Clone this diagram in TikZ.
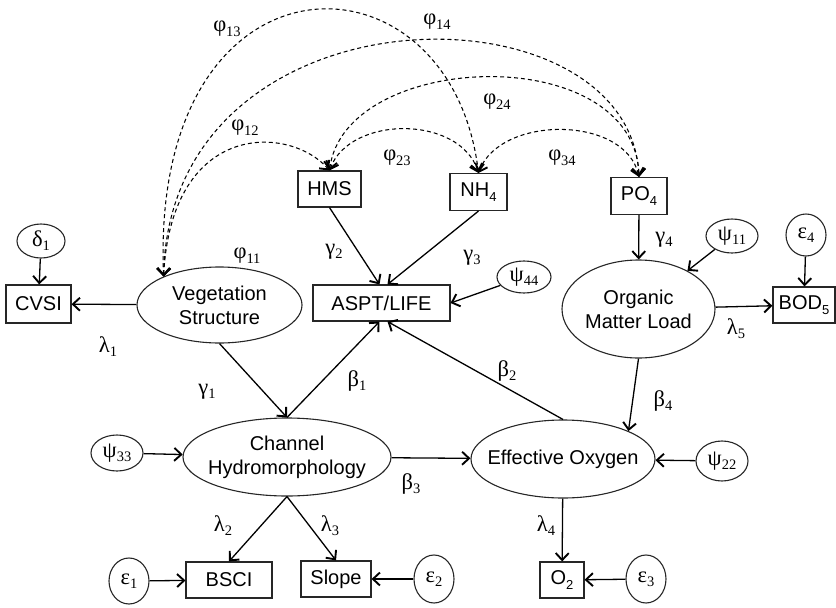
\documentclass[tikz,border=0pt]{standalone}
\usepackage{fontspec}
\setmainfont{Liberation Serif}
\setsansfont{Liberation Sans}
\usetikzlibrary{arrows.meta,shapes.geometric,calc}
\newcommand\sbx[1]{\raisebox{-0.4ex}{\fontsize{14.5}{14.5}\selectfont #1}}
\newcommand\sbs[1]{\raisebox{-0.45ex}{\fontsize{13}{13}\selectfont #1}}
\begin{document}
\begin{tikzpicture}[x=1pt,y=-1pt,
  every node/.style={inner sep=0pt},
  obs/.style={draw=black!85, line width=1.1pt, rectangle, font=\sffamily\fontsize{20}{24}\selectfont},
  lat/.style={draw=black!85, line width=1.1pt, ellipse},
  err/.style={draw=black!85, line width=1.1pt, ellipse, font=\fontsize{22.5}{24}\selectfont},
  lab/.style={font=\fontsize{22.5}{24}\selectfont},
  txt/.style={font=\sffamily\fontsize{20}{24}\selectfont, align=center},
  tip/.tip={Straight Barb[length=7pt,width=13pt,line width=1.9pt]},
  arr/.style={line width=1.3pt, -tip},
  cov/.style={line width=1.05pt, dash pattern=on 4pt off 3pt, tip-tip}
]
\useasboundingbox (0,0) rectangle (836,608);

% observed variables
\node[obs, minimum width=65pt, minimum height=38pt] (cvsi) at (38.5,304) {CVSI};
\node[obs, minimum width=63pt, minimum height=36pt] (hms) at (329.5,189) {HMS};
\node[obs, minimum width=57pt, minimum height=37pt] (nh4) at (478.5,192) {NH\sbs{4}};
\node[obs, minimum width=56pt, minimum height=37pt] (po4) at (639,196) {PO\sbs{4}};
\node[obs, minimum width=137pt, minimum height=36pt] (aspt) at (381.5,303) {ASPT/LIFE};
\node[obs, minimum width=62pt, minimum height=36pt] (bod5) at (804,305) {BOD\sbs{5}};
\node[obs, minimum width=86pt, minimum height=36pt] (bsci) at (229,580) {BSCI};
\node[obs, minimum width=70pt, minimum height=36pt] (slope) at (336,579) {Slope};
\node[obs, minimum width=44pt, minimum height=36pt] (o2) at (562,580) {O\sbs{2}};

% latent variables
\node[lat, minimum width=165pt, minimum height=76pt, label={[txt]center:Vegetation\\Structure}] (veg) at (219.5,305) {};
\node[lat, minimum width=153pt, minimum height=98pt, label={[txt]center:Organic\\Matter Load}] (org) at (638.5,309) {};
\node[lat, minimum width=208pt, minimum height=78pt, label={[txt]center:Channel\\Hydromorphology}] (chan) at (287,457) {};
\node[lat, minimum width=184pt, minimum height=78pt, label={[txt]center:Effective Oxygen}] (eo) at (563,459) {};

% error terms
\node[err, minimum width=48pt, minimum height=34pt] (d1) at (41,241) {δ\sbx{1}};
\node[err, minimum width=54pt, minimum height=32pt] (psi44) at (524,277) {ψ\sbx{44}};
\node[err, minimum width=52pt, minimum height=34pt] (psi11) at (732,236) {ψ\sbx{11}};
\node[err, minimum width=40pt, minimum height=42pt] (eps4) at (806,235) {ε\sbx{4}};
\node[err, minimum width=52pt, minimum height=36pt] (psi33) at (117,453) {ψ\sbx{33}};
\node[err, minimum width=52pt, minimum height=40pt] (psi22) at (722,461) {ψ\sbx{22}};
\node[err, minimum width=40pt, minimum height=46pt] (eps1) at (129,581) {ε\sbx{1}};
\node[err, minimum width=40pt, minimum height=48pt] (eps2) at (434,579) {ε\sbx{2}};
\node[err, minimum width=40pt, minimum height=48pt] (eps3) at (646,579) {ε\sbx{3}};

% directed paths
\draw[arr] (d1) -- (cvsi);
\draw[arr] (veg) -- (cvsi);
\draw[arr] (hms.south) -- ([xshift=-2pt]aspt.north);
\draw[arr] (nh4.south) -- ([xshift=6pt]aspt.north);
\draw[arr] (psi44) -- (aspt.east);
\draw[arr] (veg.south) -- (chan.north);
\draw[arr] (chan.north) -- ([xshift=-2pt]aspt.south);
\draw[arr] (eo.north) -- ([xshift=6pt]aspt.south);
\draw[arr] (po4) -- (org);
\draw[arr] (psi11) -- (org);
\draw[arr] (eps4) -- (bod5);
\draw[arr] (org) -- (bod5);
\draw[arr] (org.south) -- (eo.north east);
\draw[arr] (psi33) -- (chan);
\draw[arr] (chan) -- (eo);
\draw[arr] (psi22) -- (eo);
\draw[arr] (eo) -- (o2);
\draw[arr] (eps3) -- (o2);
\draw[arr] (chan.south) -- (bsci.north);
\draw[arr] (chan.south) -- (slope.north);
\draw[arr] (eps1) -- (bsci);
\draw[arr] (eps2) -- (slope);

% covariances
\draw[cov] (veg.153) .. controls (172,120) and (290,125) .. (hms.north);
\draw[cov] (veg.153) .. controls (150,-60) and (450,-60) .. (nh4.north);
\draw[cov] (veg.153) .. controls (170,-20) and (630,-20) .. (po4.north);
\draw[cov] (hms.north) .. controls (350,115) and (460,115) .. (nh4.north);
\draw[cov] (hms.north) .. controls (345,50) and (635,40) .. (po4.north);
\draw[cov] (nh4.north) .. controls (500,115) and (625,115) .. (po4.north);

% labels
\node[lab] (l13) at (227,29) {φ\sbx{13}};
\node[lab] (l14) at (437,22) {φ\sbx{14}};
\node[lab] (l24) at (497,102) {φ\sbx{24}};
\node[lab] (l12) at (245,128) {φ\sbx{12}};
\node[lab] (l23) at (397,158) {φ\sbx{23}};
\node[lab] (l34) at (562,158) {φ\sbx{34}};
\node[lab] (l11) at (247,256) {φ\sbx{11}};
\node[lab] (g2) at (334,252) {γ\sbx{2}};
\node[lab] (g3) at (472,258) {γ\sbx{3}};
\node[lab] (g4) at (664,240) {γ\sbx{4}};
\node[lab] (lam1) at (108,347) {λ\sbx{1}};
\node[lab] (g1) at (207,392) {γ\sbx{1}};
\node[lab] (b1) at (357,381) {β\sbx{1}};
\node[lab] (b2) at (507,371) {β\sbx{2}};
\node[lab] (b4) at (663,401) {β\sbx{4}};
\node[lab] (lam5) at (736,329) {λ\sbx{5}};
\node[lab] (b3) at (411,484) {β\sbx{3}};
\node[lab] (lam2) at (223,526) {λ\sbx{2}};
\node[lab] (lam3) at (330,526) {λ\sbx{3}};
\node[lab] (lam4) at (546,526) {λ\sbx{4}};
\end{tikzpicture}
\end{document}
